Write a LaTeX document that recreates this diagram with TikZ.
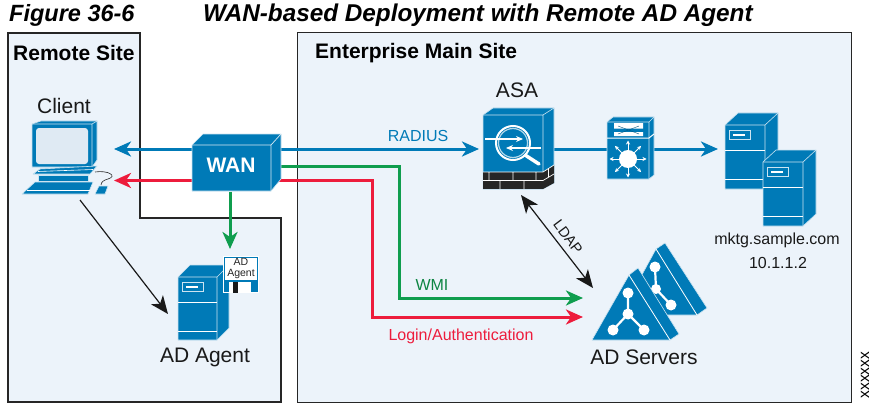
\documentclass[tikz,border=0pt]{standalone}
\usepackage{fontspec}
\setmainfont{Liberation Sans}
\usetikzlibrary{arrows.meta}
\definecolor{cisco}{HTML}{007AB7}
\definecolor{sitebg}{HTML}{ECF3FA}
\definecolor{screenc}{HTML}{DFEAF3}
\definecolor{wgreen}{HTML}{0F9D4E}
\definecolor{wred}{HTML}{ED1C3C}
\tikzset{
  site/.style={draw=black!85,line width=1.4pt,fill=sitebg},
  ico/.style={fill=cisco,draw=white!80!cisco,line width=.6pt,line join=round},
  wl/.style={draw=white,line width=1pt},
  hit/.style={inner sep=0,outer sep=0,minimum width=#1},
  lab/.style={font=\fontsize{21}{24}\selectfont,text=black!90,inner sep=0},
  sitelab/.style={font=\fontsize{21}{24}\selectfont\bfseries,text=black,inner sep=0},
  small/.style={font=\fontsize{16}{18}\selectfont,text=black!90,inner sep=0},
  flow/.style={line width=3pt,-{Stealth[length=17pt,width=15pt,inset=5pt]}},
  plainflow/.style={line width=3pt},
  thin arrow/.style={line width=1.2pt,black!90,-{Stealth[length=18pt,width=15pt,inset=5pt]}},
  both arrow/.style={line width=1.2pt,black!90,{Stealth[length=18pt,width=15pt,inset=5pt]}-{Stealth[length=18pt,width=15pt,inset=5pt]}},
}
\newcommand{\towerico}[8]{% fx1 fy1 fx2 fy2 dx dy l1 l2
  \fill[cisco,draw=white!80!cisco,line width=.6pt,line join=round] (#1,#2)--(#1+#5,#2-#6)--(#3+#5,#2-#6)--(#3+#5,#4-#6)--(#3,#4)--(#1,#4)--cycle;
  \draw[white!80!cisco,line width=.6pt] (#1,#2)--(#3,#2)--(#3,#4) (#3,#2)--(#3+#5,#2-#6);
  \draw[wl] (#1,#7)--(#3,#7) (#1,#8)--(#3,#8);
  \draw[draw=white!80!cisco,line width=1pt] (#1+4,#2+5) rectangle (#1+25,#2+14);
  \fill[white] (#1+8,#2+8.5) rectangle (#1+20,#2+10.5);
}
\begin{document}
\begin{tikzpicture}[x=1pt,y=-1pt]
\useasboundingbox (0,0) rectangle (871,404);
% titles
\node[anchor=west,inner sep=0,font=\fontsize{23.5}{26}\selectfont\bfseries\itshape] (figno) at (9,15) {Figure 36-6};
\node[anchor=west,inner sep=0,font=\fontsize{24.3}{26}\selectfont\bfseries\itshape] (figtitle) at (203,15) {WAN-based Deployment with Remote AD Agent};
% sites
\draw[site] (8,33)--(140,33)--(140,218)--(281,218)--(281,402)--(8,402)--cycle;
\draw[site,line width=1pt] (297.5,33)--(851,33)--(851,402)--(297.5,402)--cycle;
\node[sitelab,anchor=west] (remote) at (13,53) {Remote Site};
\node[sitelab,anchor=west] (main) at (315,53) {Enterprise Main Site};
% invisible named icon boxes
\node[hit=80pt,minimum height=47pt] (wan) at (232,168) {};
\node[hit=85pt,minimum height=80pt] (client) at (71,160) {};
\node[hit=60pt,minimum height=81pt] (asa) at (513,149) {};
\node[hit=47pt,minimum height=62pt] (switch) at (630,148) {};
\node[hit=92pt,minimum height=113pt] (web) at (770,170) {};
\node[hit=50pt,minimum height=76pt] (adagent) at (193,314) {};
\node[hit=2pt,minimum height=60pt] (adservers) at (584,310) {};
\coordinate (ldapA) at (593,288);
\coordinate (ldapB) at (521,195);
\coordinate (clientTail) at (80,200);
\coordinate (agentTip) at (168,314);
\coordinate (floppyTop) at (230,249);
\coordinate (webport) at (718,149);
\coordinate (clientport) at (114,149);
% connectors
\draw[flow,cisco] (wan.west |- 0,149) -- (clientport);
\draw[flow,wred] (wan.west |- 0,180.5) -- (clientport |- 0,180.5);
\draw[flow,cisco] (wan.east |- 0,149) -- (479,149);
\draw[plainflow,cisco] (543,149) -- (switch.west |- 0,149);
\draw[flow,cisco] (switch.east |- 0,149) -- (webport);
\draw[flow,wgreen] (wan.east |- 0,166.5) -- (399,166.5) -- (399,298) -- (adservers.west |- 0,298);
\draw[flow,wred] (wan.east |- 0,180.5) -- (372,180.5) -- (372,317) -- (adservers.west |- 0,317);
\draw[flow,wgreen] (wan.south -| floppyTop) -- (floppyTop);
\draw[thin arrow] (clientTail) -- (agentTip);
\draw[both arrow] (ldapB) -- (ldapA);
% WAN
\fill[ico] (192,145)--(203,134)--(281,134)--(281,179)--(271,191)--(192,191)--cycle;
\draw[white!85!cisco,line width=.7pt] (192,145)--(271,145)--(271,191) (271,145)--(281,134);
\node[inner sep=0,text=white,font=\fontsize{21}{24}\selectfont\bfseries] (wantxt) at (231,165) {WAN};
% Client
\fill[ico] (32,124)--(41,121)--(97,121)--(97,160)--(92,167)--(32,167)--cycle;
\draw[white!80!cisco,line width=.6pt] (32,124)--(92,124)--(92,167) (92,124)--(97,121);
\fill[screenc,rounded corners=3pt] (36,128) rectangle (88,164);
\fill[ico] (33,174)--(40,169)--(97,166)--(90,174)--cycle;
\draw[white,line width=.6pt] (38,171.5)--(93,169.5);
\fill[ico] (38,175) rectangle (88,181);
\fill[ico] (22,194)--(35,182)--(93,182)--(88,194)--cycle;
\draw[white,line width=.5pt] (27,190.5)--(90,190.5);
\fill[ico] (95,194)--(99,186)--(108,186)--(105,194)--cycle;
\draw[black!85,line width=.6pt] (95,172) .. controls (108,170) and (118,176) .. (108,179) .. controls (104,180) and (101,182) .. (101,185);
\node[lab] (clienttxt) at (64,106) {Client};
% AD agent
\towerico{178}{277}{217}{340}{12}{12}{302}{331}
\fill[white] (223,256) rectangle (259,293);
\fill[cisco] (224,257) -- (258,257)--(258,292)--(224,292)--cycle;
\fill[white] (225,257.5) rectangle (257,280);
\fill[white] (229,282) rectangle (251,293);
\fill[black!90] (233,282) rectangle (238,293);
\fill[cisco] (251,281) rectangle (258,292);
\node[inner sep=0,align=center,font=\fontsize{10.5}{10.5}\selectfont,text=black!85] (agenticon) at (241,268.5) {AD\\Agent};
\node[lab] (adagenttxt) at (205,357) {AD Agent};
% ASA
\fill[ico] (483,115)--(493,108)--(554,108)--(554,183)--(543,189)--(483,189)--cycle;
\draw[white!80!cisco,line width=.6pt] (483,115)--(543,115)--(543,172) (543,115)--(554,108);
\fill[black!85] (483,172) rectangle (543,189);
\fill[black!85] (543,172)--(554,165)--(554,183)--(543,189)--cycle;
\draw[white,line width=.7pt] (483,172)--(543,172)--(554,165) (483,180.5)--(543,180.5)--(554,174)
  (489,172)--(489,180.5) (513,172)--(513,180.5) (536,172)--(536,180.5)
  (500,180.5)--(500,189) (524,180.5)--(524,189) (548.5,169)--(548.5,177);
\draw[white,line width=3.5pt,line cap=round] (525,155)--(539,164);
\fill[cisco] (513,143) circle (16);
\draw[white,line width=2pt] (513,143) circle (17);
\draw[white!70!cisco,line width=1.2pt] (513,143) circle (14.5);
\draw[white,line width=1.4pt,-{Stealth[length=7pt,width=6pt]}] (485,139)--(523,139);
\draw[white,line width=1.4pt,-{Stealth[length=7pt,width=6pt]}] (541,148)--(506,148);
\node[lab] (asatxt) at (517,90) {ASA};
\node[small,text=cisco] (radius) at (418,136) {RADIUS};
% switch
\fill[ico] (607,122)--(613,117)--(654,117)--(654,175)--(649,179)--(607,179)--cycle;
\draw[white!80!cisco,line width=.6pt] (607,122)--(649,122)--(649,179) (649,122)--(654,117);
\draw[white,line width=1pt] (607,138)--(649,138)--(654,134);
\fill[white] (614,123) rectangle (643,128.5) (614,132) rectangle (643,136);
\draw[cisco!70!black,line width=.4pt] (618,126)--(639,134) (618,134)--(639,126);
\fill[white] (628,159) circle (9);
\foreach \a in {0,45,...,315}{
  \draw[white,line width=.8pt,-{Stealth[length=4pt,width=4pt]}] (628,159) ++(\a:9) -- ++(\a:9.5);
}
% web servers
\towerico{725}{125}{765}{189}{13}{12}{150}{179}
\towerico{763}{162}{803}{226}{13}{12}{187}{216}
\node[small] (mktg) at (777,240) {mktg.sample.com};
\node[small] (ip) at (778,263) {10.1.1.2};
% AD servers (back)
\fill[ico] (656,249)--(665,243)--(707,308)--(697,315)--(620,315)--cycle;
\draw[white,line width=.8pt] (656,249)--(697,315);
\draw[white,line width=2.2pt] (655,267)--(656,289)--(671,305);
\fill[white] (655,267) circle (5.5) (656,289) circle (5) (671,305) circle (5.5);
% AD servers (front)
\fill[ico] (629,275)--(638,268)--(679,334)--(670,340)--(592,340)--cycle;
\draw[white,line width=.8pt] (629,275)--(670,340);
\draw[white,line width=2.2pt] (628,293)--(628,314) (613,330)--(628,314)--(644,330);
\fill[white] (628,293) circle (5.5) (628,314) circle (5.5) (613,330) circle (5.5) (644,330) circle (5.5);
\node[lab] (adsrvtxt) at (644,357) {AD Servers};
% labels
\node[rotate=-53,inner sep=0,font=\fontsize{14.5}{16}\selectfont,text=black!90] (ldap) at (568,237) {LDAP};
\node[small,text=wgreen!85!black] (wmi) at (432,285) {WMI};
\node[small,text=wred] (login) at (461,336) {Login/Authentication};
\node[inner sep=0,rotate=90,font=\fontsize{15.5}{16}\selectfont] (xx) at (865,375) {xxxxxx};
\end{tikzpicture}
\end{document}
